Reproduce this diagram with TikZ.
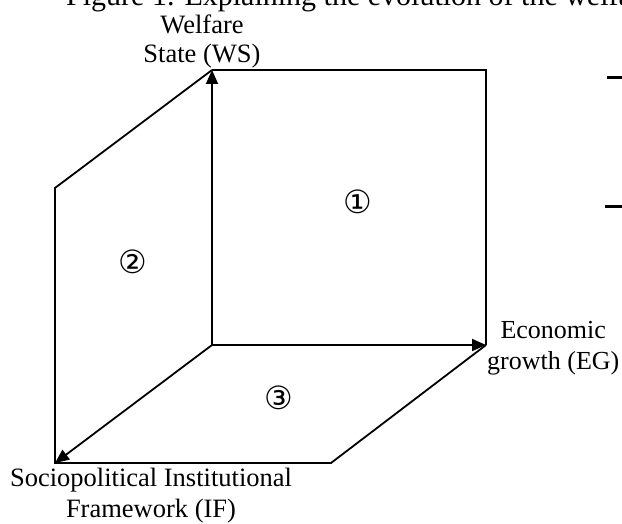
\documentclass[tikz,border=0pt]{standalone}
\usepackage{fontspec}
\setmainfont{Liberation Serif}
\newfontfamily\circfont{DejaVu Sans}
\usepackage{tikz}
\usetikzlibrary{arrows.meta}

\begin{document}
\begin{tikzpicture}[x=1pt, y=-1pt, every node/.style={font=\fontsize{26.5}{31}\selectfont, align=center, inner sep=0pt}, >={Triangle[length=14pt, width=12pt]}, edge/.style={line width=1.8pt}, zone/.style={font=\fontsize{32}{34}\circfont}]
	\useasboundingbox (0,0) rectangle (622,524);
	\node[anchor=base west, font=\fontsize{30}{34}\selectfont] (title) at (66,6) {Figure 1. Explaining the evolution of the welfare state};
	\coordinate (O) at (212,345);
	\coordinate (WS) at (212,70);
	\coordinate (EG) at (486,345);
	\coordinate (IF) at (55,463);
	\coordinate (TR) at (486,70);
	\coordinate (TL) at (55,188);
	\coordinate (BR) at (331,463);
	\draw[edge, line join=miter] (WS) -- (TR) -- (EG);
	\draw[edge, line join=miter] (WS) -- (TL) -- (IF) -- (BR) -- (EG);
	\foreach \t in {WS,EG,IF} {\draw[edge, ->] (O) -- (\t);}
	\node[font=\fontsize{26.5}{29}\selectfont] (wsl) at (202,41) {Welfare\\State (WS)};
	\node[anchor=west, font=\fontsize{26}{31}\selectfont] (egl) at (487,348) {Economic\\growth (EG)};
	\node (ifl) at (151,496) {Sociopolitical Institutional\\Framework (IF)};
	\node[zone] (z1) at (358,202) {①};
	\node[zone] (z2) at (133,262) {②};
	\node[zone] (z3) at (279,398) {③};
	\draw[line width=3pt] (607,78) -- (622,78);
	\draw[line width=3pt] (605,207) -- (622,207);
\end{tikzpicture}
\end{document}
